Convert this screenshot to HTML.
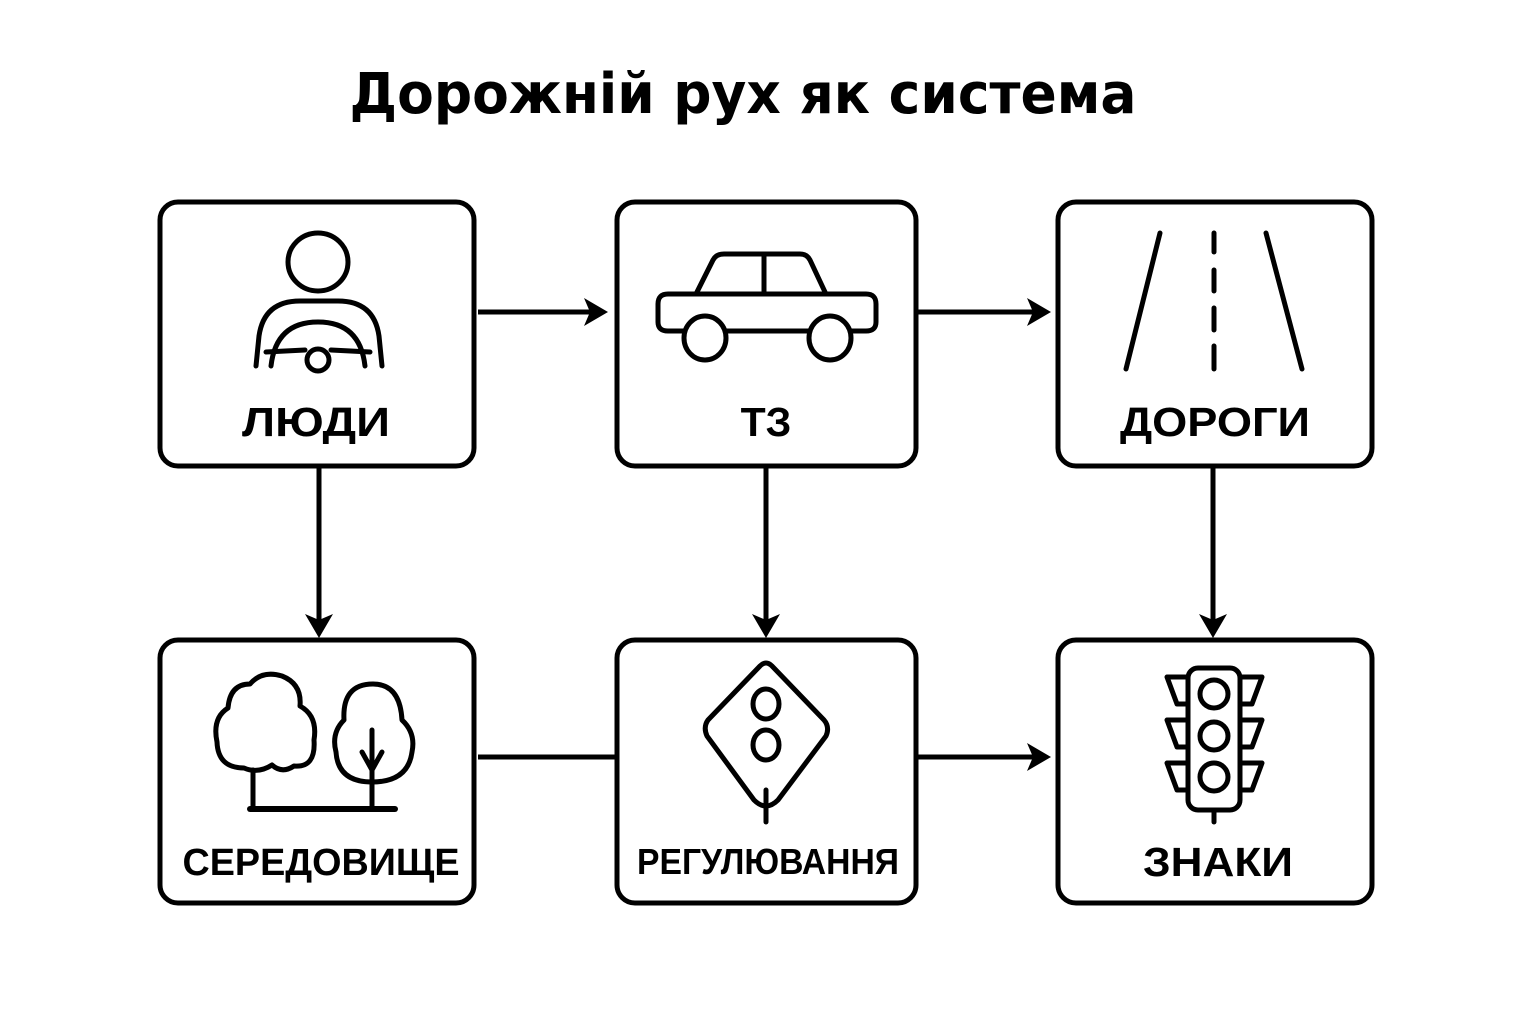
<!DOCTYPE html>
<html><head><meta charset="utf-8"><style>
html,body{margin:0;padding:0;background:#fff;}
svg{display:block}
text{font-family:"Liberation Sans","DejaVu Sans",sans-serif;font-weight:bold;fill:#000;text-anchor:middle}
</style></head><body>
<svg width="1536" height="1024" viewBox="0 0 1536 1024" xmlns="http://www.w3.org/2000/svg">
<text x="743" y="113" font-size="56" style="font-family:'DejaVu Sans',sans-serif" textLength="787" lengthAdjust="spacingAndGlyphs">Дорожній рух як система</text>
<g fill="none" stroke="#000" stroke-width="5">
<rect x="160" y="202" width="314" height="264" rx="18"/>
<rect x="617" y="202" width="299" height="264" rx="18"/>
<rect x="1058" y="202" width="314" height="264" rx="18"/>
<rect x="160" y="640" width="314" height="263" rx="18"/>
<rect x="617" y="640" width="299" height="263" rx="18"/>
<rect x="1058" y="640" width="314" height="263" rx="18"/>
<line x1="478" y1="312" x2="590" y2="312"/>
<line x1="918" y1="312" x2="1033" y2="312"/>
<line x1="319" y1="468" x2="319" y2="620"/>
<line x1="766" y1="468" x2="766" y2="620"/>
<line x1="1213" y1="468" x2="1213" y2="620"/>
<line x1="478" y1="757" x2="615" y2="757"/>
<line x1="918" y1="757" x2="1033" y2="757"/>
</g>
<g fill="#000">
<path d="M608,312 L584,298 L590,312 L584,326 Z"/>
<path d="M1051,312 L1027,298 L1033,312 L1027,326 Z"/>
<path d="M1051,757 L1027,743 L1033,757 L1027,771 Z"/>
<path d="M319,638 L305,614 L319,620 L333,614 Z"/>
<path d="M766,638 L752,614 L766,620 L780,614 Z"/>
<path d="M1213,638 L1199,614 L1213,620 L1227,614 Z"/>
</g>
<g fill="none" stroke="#000" stroke-width="5" stroke-linecap="round" stroke-linejoin="round">
<ellipse cx="318" cy="262" rx="30" ry="29"/>
<path d="M256,366 L259,336 Q264,301 300,301 L338,301 Q374,301 379,336 L382,366"/>
<path d="M271,366 Q276,322 318,322 Q360,322 365,366"/>
<path d="M266,352 L305,350 M331,350 L370,352"/>
<circle cx="318" cy="360" r="11" fill="#fff"/>
<path d="M697,292 L713,260 Q716,254 724,254 L800,254 Q807,254 810,260 L825,292"/>
<line x1="764" y1="256" x2="764" y2="292"/>
<path d="M668,294 L866,294 Q876,294 876,304 L876,322 Q876,331 866,331 L668,331 Q658,331 658,322 L658,304 Q658,294 668,294 Z" fill="#fff"/>
<ellipse cx="705" cy="338" rx="21" ry="22" fill="#fff"/>
<ellipse cx="830" cy="338" rx="21" ry="22" fill="#fff"/>
<line x1="1160" y1="233" x2="1126" y2="369"/>
<line x1="1266" y1="233" x2="1302" y2="369"/>
<line x1="1214" y1="233" x2="1214" y2="252"/>
<line x1="1214" y1="270" x2="1214" y2="291"/>
<line x1="1214" y1="308" x2="1214" y2="330"/>
<line x1="1214" y1="346" x2="1214" y2="369"/>
<path d="M244,768 Q218,768 217,742 Q212,718 228,708 Q230,684 250,684 Q262,670 282,676 Q302,684 300,706 Q318,716 314,740 Q316,768 294,766 Q282,774 272,765 Q258,774 244,768 Z"/>
<line x1="253" y1="770" x2="253" y2="807"/>
<path d="M372,782 Q338,782 336,752 Q331,733 344,720 Q342,684 373,684 Q400,684 402,720 Q416,733 412,752 Q408,782 372,782 Z"/>
<line x1="372" y1="730" x2="372" y2="807"/>
<line x1="362" y1="752" x2="372" y2="770"/>
<line x1="382" y1="752" x2="372" y2="770"/>
<line x1="250" y1="809" x2="395" y2="809" stroke-width="6"/>
<path d="M760,666 Q766,660 772,666 L824,720 Q830,727 826,736 L778,800 Q766,812 754,800 L707,736 Q703,727 708,720 Z"/>
<ellipse cx="766" cy="704" rx="13" ry="15"/>
<ellipse cx="766" cy="745" rx="13" ry="15"/>
<line x1="766" y1="790" x2="766" y2="822"/>
<rect x="1188" y="668" width="52" height="142" rx="10"/>
<circle cx="1214" cy="694" r="14"/>
<circle cx="1214" cy="736" r="14"/>
<circle cx="1214" cy="777" r="14"/>
<path d="M1188,677 L1167,677 L1177,704 L1188,704"/>
<path d="M1188,720 L1167,720 L1177,747 L1188,747"/>
<path d="M1188,763 L1167,763 L1177,790 L1188,790"/>
<path d="M1240,677 L1262,677 L1252,704 L1240,704"/>
<path d="M1240,720 L1262,720 L1252,747 L1240,747"/>
<path d="M1240,763 L1262,763 L1252,790 L1240,790"/>
<line x1="1214" y1="810" x2="1214" y2="822"/>
</g>
<text x="316" y="436" font-size="41" textLength="148" lengthAdjust="spacingAndGlyphs">ЛЮДИ</text>
<text x="766" y="436" font-size="41">ТЗ</text>
<text x="1215" y="436" font-size="41" textLength="190" lengthAdjust="spacingAndGlyphs">ДОРОГИ</text>
<text x="321" y="875" font-size="38" textLength="277" lengthAdjust="spacingAndGlyphs">СЕРЕДОВИЩЕ</text>
<text x="768" y="874" font-size="36" textLength="262" lengthAdjust="spacingAndGlyphs">РЕГУЛЮВАННЯ</text>
<text x="1218" y="876" font-size="41" textLength="150" lengthAdjust="spacingAndGlyphs">ЗНАКИ</text>
</svg>
</body></html>
